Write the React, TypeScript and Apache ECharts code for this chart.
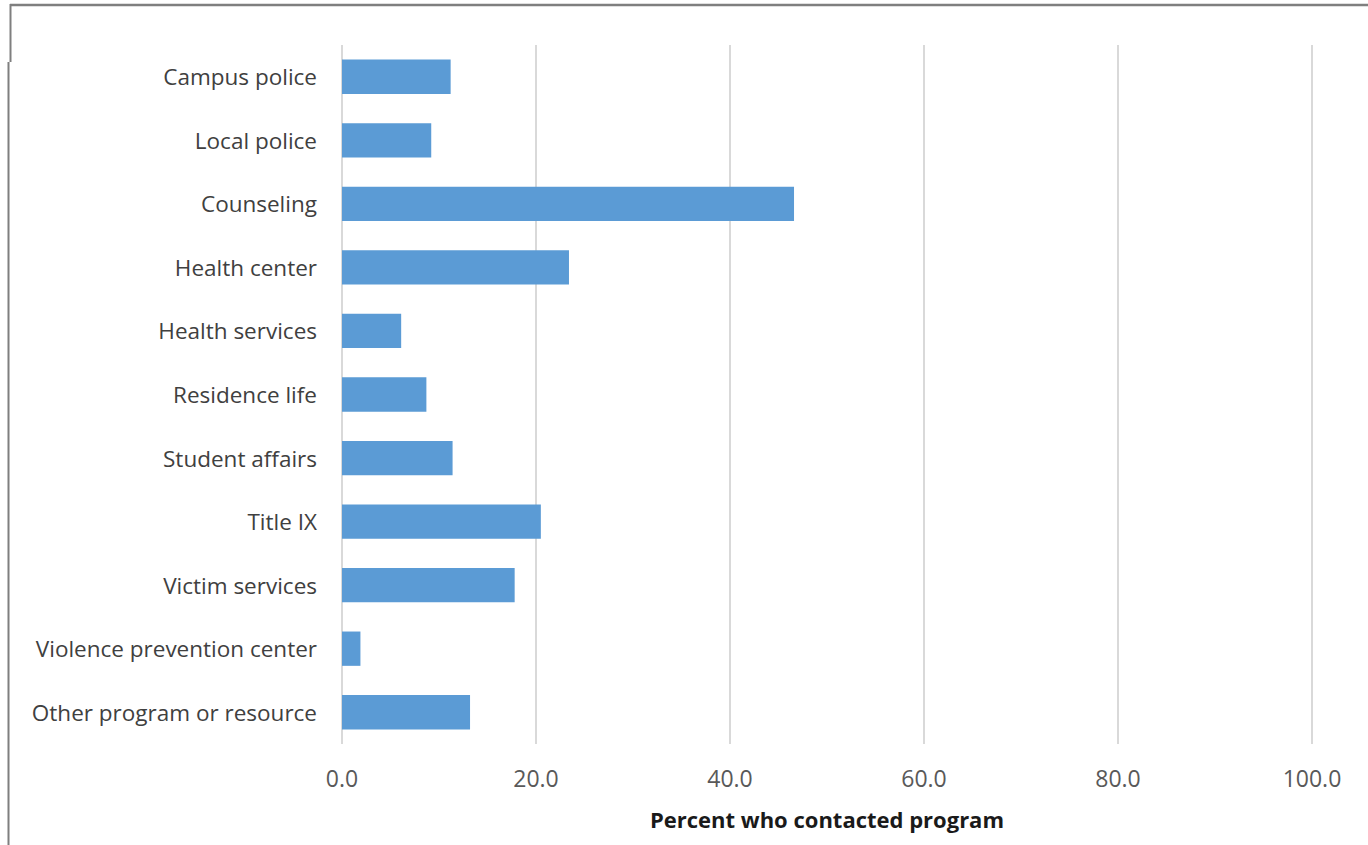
import React, { useEffect, useRef } from "react";
import * as echarts from "echarts";

const categories = [
  "Campus police",
  "Local police",
  "Counseling",
  "Health center",
  "Health services",
  "Residence life",
  "Student affairs",
  "Title IX",
  "Victim services",
  "Violence prevention center",
  "Other program or resource",
];
const values = [11.2, 9.2, 46.6, 23.4, 6.1, 8.7, 11.4, 20.5, 17.8, 1.9, 13.2];
const axisTitle = "Percent who contacted program";

export default function App() {
  const ref = useRef<HTMLDivElement>(null);
  useEffect(() => {
    const chart = echarts.init(ref.current!, null, { renderer: "svg" });
    const font = "Open Sans";
    chart.setOption({
      animation: false,
      backgroundColor: "#ffffff",
      textStyle: { fontFamily: font },
      grid: { left: 342, right: 56, top: 45, bottom: 101, containLabel: false },
      xAxis: {
        type: "value",
        min: 0,
        max: 100,
        interval: 20,
        axisLine: { show: false },
        axisTick: { show: false },
        splitLine: { show: true, lineStyle: { color: "#d9d9d9", width: 2 } },
        axisLabel: {
          formatter: (v: number) => v.toFixed(1),
          color: "#595959",
          fontSize: 23,
          fontFamily: font,
          margin: 22,
        },
        name: axisTitle,
        nameLocation: "middle",
        nameGap: 64,
        nameTextStyle: { color: "#1a1a1a", fontSize: 22, fontWeight: "bold", fontFamily: font },
      },
      yAxis: {
        type: "category",
        data: categories,
        inverse: true,
        axisLine: { show: false },
        axisTick: { show: false },
        axisLabel: { color: "#404040", fontSize: 22.5, fontFamily: font, margin: 25 },
      },
      series: [
        {
          type: "bar",
          data: values,
          barCategoryGap: "46%",
          itemStyle: { color: "#5b9bd5" },
        },
      ],
      graphic: [
        { type: "line", shape: { x1: 10, y1: 5, x2: 1368, y2: 5 }, style: { stroke: "#7f7f7f", lineWidth: 2.5 } },
        { type: "line", shape: { x1: 10.5, y1: 4, x2: 10.5, y2: 62 }, style: { stroke: "#7f7f7f", lineWidth: 2 } },
        { type: "line", shape: { x1: 8.5, y1: 62, x2: 8.5, y2: 845 }, style: { stroke: "#7f7f7f", lineWidth: 2 } },
      ],
    });
    return () => chart.dispose();
  }, []);
  return (
    <div
      ref={ref}
      style={{ position: "fixed", left: 0, top: 0, width: 1368, height: 845 }}
    />
  );
}
